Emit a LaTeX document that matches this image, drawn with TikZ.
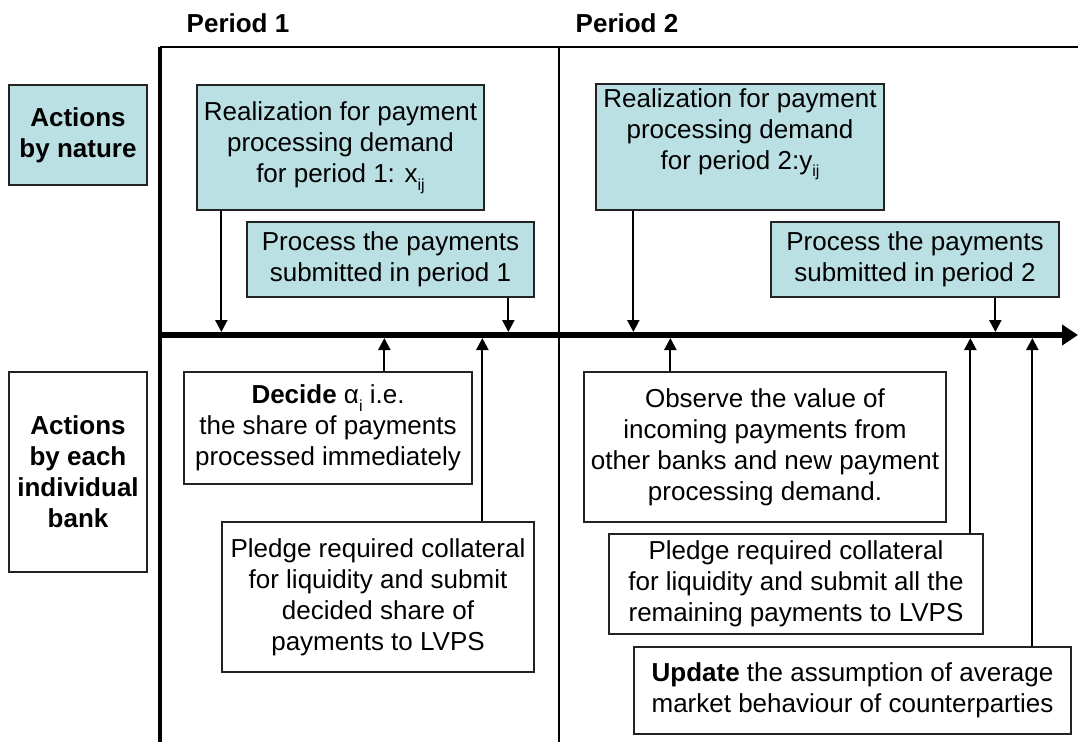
\documentclass[tikz,border=0pt]{standalone}
\usepackage{fontspec}
\setmainfont{Liberation Sans}
\usetikzlibrary{arrows.meta}
\definecolor{tealbox}{RGB}{187,224,227}
\definecolor{edgegray}{RGB}{35,35,35}
\newcommand{\mysub}[1]{\raisebox{-0.3em}{\fontsize{16}{16}\selectfont #1}}
\begin{document}
\begin{tikzpicture}[x=1pt,y=-1pt,
  txt/.style={align=center, inner sep=0pt, font=\fontsize{26}{31}\selectfont},
  box/.style={txt, draw=edgegray, line width=1.3pt},
  nat/.style={box, fill=tealbox},
  bank/.style={box, fill=white},
  head/.style={txt, font=\fontsize{26}{31}\selectfont\bfseries},
  arr/.style={line width=2.2pt, -{Triangle[width=12pt,length=12pt]}},
  frame/.style={line width=#1, line cap=rect}
]
\useasboundingbox (0,0) rectangle (1078,742);

% frame
\coordinate (ftl) at (160,47);
\coordinate (ftr) at (1078,47);
\coordinate (fbl) at (160,742);
\coordinate (fmt) at (559,47);
\coordinate (fmb) at (559,742);
\draw[line width=2pt] (ftl) -- (ftr);
\draw[line width=3.5pt] (ftl) -- (fbl);
\draw[line width=1.5pt] (fmt) -- (fmb);

% timeline
\coordinate (tlL) at (160,335);
\coordinate (tlR) at (1078,335);
\coordinate (tT) at (0,332);
\coordinate (tB) at (0,338);
\draw[line width=6.5pt, -{Triangle[width=20pt,length=16pt]}] (tlL) -- (tlR);

% period headings
\node[head] (per1) at (238,23) {Period 1};
\node[head] (per2) at (627,23) {Period 2};

% row labels
\node[nat, minimum width=138pt, minimum height=100pt, font=\fontsize{26}{31}\selectfont\bfseries] (natA) at (78,135) {Actions\\by nature};
\node[bank, minimum width=138pt, minimum height=200pt, font=\fontsize{26}{31}\selectfont\bfseries] (bankA) at (78,472) {Actions\\by each\\individual\\bank};

% nature boxes
\node[nat, minimum width=287pt, minimum height=125pt] (r1) at (340.5,147.5)
  {Realization for payment\\processing demand\\for period 1: x\mysub{ij}};
\node[nat, minimum width=287pt, minimum height=75pt] (p1) at (390.5,259.5)
  {Process the payments\\submitted in period 1};
\node[nat, minimum width=288pt, minimum height=126pt] (r2) at (740,147) {};
\node[txt, anchor=north] (r2t) at (740,88)
  {Realization for payment\\processing demand\\for period 2:y\mysub{ij}};
\node[nat, minimum width=288pt, minimum height=75pt] (p2) at (915,259.5)
  {Process the payments\\submitted in period 2};

% bank boxes
\node[bank, minimum width=288pt, minimum height=112pt] (dec) at (328,428)
  {\textbf{Decide} α\mysub{i} i.e.\\the share of payments\\processed immediately};
\node[bank, minimum width=312pt, minimum height=150pt] (pl1) at (378,597)
  {Pledge required collateral\\for liquidity and submit\\decided share of\\payments to LVPS};
\node[bank, minimum width=362pt, minimum height=150pt] (obs) at (765,447)
  {Observe the value of\\incoming payments from\\other banks and new payment\\processing demand.};
\node[bank, minimum width=374pt, minimum height=100pt] (pl2) at (796,584)
  {Pledge required collateral\\for liquidity and submit all the\\remaining payments to LVPS};
\node[bank, minimum width=437pt, minimum height=87pt] (upd) at (852.5,690.5)
  {\textbf{Update} the assumption of average\\market behaviour of counterparties};

% arrow start points
\coordinate (a1) at ([xshift=25pt]r1.south west);
\coordinate (a2) at ([xshift=262pt]p1.south west);
\coordinate (a3) at ([xshift=38pt]r2.south west);
\coordinate (a4) at ([xshift=225pt]p2.south west);
\coordinate (b1) at ([xshift=201pt]dec.north west);
\coordinate (b2) at ([xshift=261pt]pl1.north west);
\coordinate (b3) at ([xshift=87pt]obs.north west);
\coordinate (b4) at ([xshift=362pt]pl2.north west);
\coordinate (b5) at ([xshift=399pt]upd.north west);

\draw[arr] (a1) -- (a1 |- tT);
\draw[arr] (a2) -- (a2 |- tT);
\draw[arr] (a3) -- (a3 |- tT);
\draw[arr] (a4) -- (a4 |- tT);
\draw[arr] (b1) -- (b1 |- tB);
\draw[arr] (b2) -- (b2 |- tB);
\draw[arr] (b3) -- (b3 |- tB);
\draw[arr] (b4) -- (b4 |- tB);
\draw[arr] (b5) -- (b5 |- tB);
\end{tikzpicture}
\end{document}
